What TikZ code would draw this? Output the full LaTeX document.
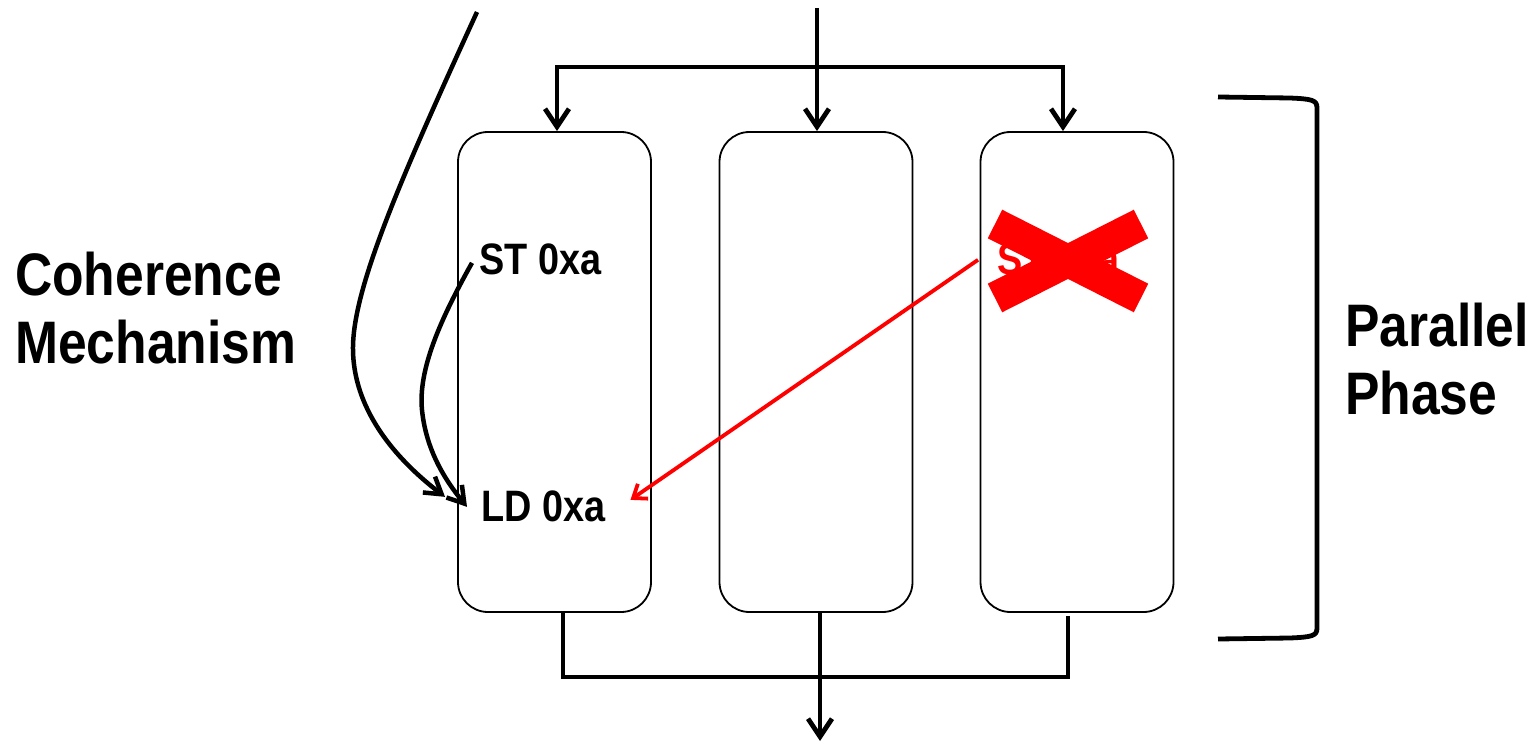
\documentclass[tikz,border=0pt]{standalone}
\usepackage{fontspec}
\setmainfont{Liberation Sans}[FakeStretch=0.86]
\usetikzlibrary{arrows.meta,calc}
\begin{document}
\begin{tikzpicture}[x=1pt,y=-1pt,
  core/.style={draw, line width=1.8pt, rounded corners=30pt,
    minimum width=193pt, minimum height=480pt, inner sep=0pt},
  conn/.style={line width=4.8pt},
  arr/.style={conn, -{Straight Barb[length=18pt,width=24pt]}},
  big/.style={font=\fontsize{60}{68}\selectfont\bfseries, align=left, inner sep=0pt},
  op/.style={font=\fontsize{44}{50}\selectfont\bfseries, inner sep=0pt},
  flow/.style={line width=4.5pt, -{Straight Barb[length=16pt,width=20pt]}},
  stale/.style={red, line width=3.8pt, -{Straight Barb[length=12pt,width=18pt]}},
  cross/.style={red, line width=32pt},
]
\useasboundingbox (0,0) rectangle (1539,743);

% three parallel cores
\node[core] (c1) at (554.5,372) {};
\node[core] (c2) at (816,372) {};
\node[core] (c3) at (1077,372) {};

% memory operations
\node[op, anchor=base west] (st) at (479,275) {ST 0xa};
\node[op, anchor=base west] (ld) at (481,521) {LD 0xa};
\node[op, anchor=base west, text=red] (st3) at (997,275) {ST 0xa};

% side labels
\node[big, anchor=north west] (coh) at (15,252) {Coherence\\Mechanism};
\node[big, anchor=north west] (par) at (1345,303) {Parallel\\Phase};

% fork at the top
\coordinate (src) at (817,8);
\coordinate (busL) at (557,67);
\coordinate (busR) at (1063,67);
\draw[arr] (src) -- (src |- c2.north);
\draw[arr] (busR) -- (busL) -- (busL |- c1.north);
\draw[arr] (busL) -- (busR) -- (busR |- c3.north);

% join at the bottom
\coordinate (joinL) at (563,677);
\coordinate (joinR) at (1068,677);
\coordinate (sink) at (820,741);
\draw[conn] (joinL |- c1.south) -- (joinL) -- (joinR) -- ($(joinR |- c3.south)+(0,3)$);
\draw[arr] (c2.south -| sink) -- (sink);

% value flow into the load
\coordinate (far) at (477,12);
\draw[flow] (far) .. controls (400,180) and (352,290) .. (353,350)
  .. controls (354,420) and (410,470) .. ($(ld.west)+(-36,-9)$);
\draw[flow] ($(st.west)+(-7,3)$) .. controls (440,320) and (418,370) .. (422,410)
  .. controls (426,450) and (445,480) .. ($(ld.west)+(-14,1)$);
\draw[stale] ($(st3.west)+(-19,0)$) -- ($(ld.east)+(25,-6)$);

% cancelled store
\draw[cross] (995,224) -- (1141,298) (1141,224) -- (995,298);

% bracket for the parallel phase
\draw[conn] (1218,97) -- (1290,98) .. controls (1312,99) and (1317,100) .. (1317,108)
  -- (1317,628) .. controls (1317,636) and (1312,637) .. (1290,638) -- (1218,639);
\end{tikzpicture}
\end{document}
